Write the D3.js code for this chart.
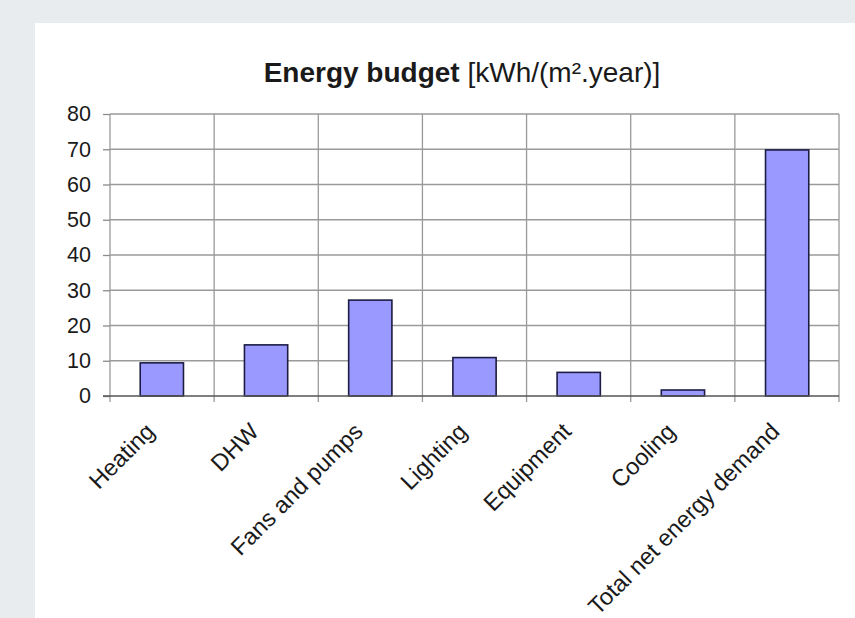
<!DOCTYPE html>
<html>
<head>
<meta charset="utf-8">
<script src="https://cdn.jsdelivr.net/npm/d3@7"></script>
<style>
  html, body { margin: 0; padding: 0; background: #e9ecef; }
  .canvas { width: 855px; height: 618px; overflow: hidden; }
  text { font-family: "Liberation Sans", Arial, sans-serif; fill: #1a1a1a; }
</style>
</head>
<body>
<div class="canvas"></div>
<script>
// data
const categories = ['Heating', 'DHW', 'Fans and pumps', 'Lighting', 'Equipment', 'Cooling', 'Total net energy demand'];
const values = [9.4, 14.5, 27.2, 10.9, 6.7, 1.7, 69.8];
const yTicks = [0, 10, 20, 30, 40, 50, 60, 70, 80];

const margins = { top: 114, right: 16, bottom: 222, left: 110 };
const canvasWidth = 855;
const canvasHeight = 618;
const graphWidth = canvasWidth - margins.right - margins.left;
const graphHeight = canvasHeight - margins.top - margins.bottom;

const svg = d3
  .select('.canvas')
  .append('svg')
  .attr('width', canvasWidth)
  .attr('height', canvasHeight);

// white panel
svg.append('rect')
  .attr('x', 35)
  .attr('y', 23)
  .attr('width', canvasWidth - 35)
  .attr('height', canvasHeight - 23)
  .attr('fill', '#fff');

// title
const title = svg.append('text')
  .attr('x', 462)
  .attr('y', 82)
  .attr('text-anchor', 'middle')
  .style('font-size', '28px');
title.append('tspan').attr('font-weight', 'bold').text('Energy budget');
title.append('tspan').text(' [kWh/(m\u00B2.year)]');

const graph = svg
  .append('g')
  .attr('transform', `translate(${margins.left}, ${margins.top})`);

// scales
const x = d3.scaleBand().domain(categories).range([0, graphWidth]).padding(0);
const xBar = d3.scaleBand().domain(categories).range([0, graphWidth]).paddingInner(0.585).paddingOuter(0.29);
const y = d3.scaleLinear().domain([0, 80]).range([graphHeight, 0]);

// horizontal grid
graph.append('g')
  .selectAll('line')
  .data(yTicks.slice(1))
  .join('line')
  .attr('x1', 0)
  .attr('x2', graphWidth)
  .attr('y1', d => y(d))
  .attr('y2', d => y(d))
  .attr('stroke', '#9a9a9a')
  .attr('stroke-width', 1.3);

// vertical grid + ticks below axis
const edges = categories.map(d => x(d)).concat([graphWidth]);
graph.append('g')
  .selectAll('line')
  .data(edges)
  .join('line')
  .attr('x1', d => d)
  .attr('x2', d => d)
  .attr('y1', 0)
  .attr('y2', graphHeight + 6)
  .attr('stroke', '#9a9a9a')
  .attr('stroke-width', 1.3);

// bars
graph.append('g')
  .selectAll('rect')
  .data(values)
  .join('rect')
  .attr('x', (d, i) => xBar(categories[i]))
  .attr('width', xBar.bandwidth())
  .attr('y', d => y(d))
  .attr('height', d => graphHeight - y(d))
  .attr('fill', '#9999ff')
  .attr('stroke', '#1c1c44')
  .attr('stroke-width', 1.6);

// y axis
const yAxis = d3.axisLeft(y).tickValues(yTicks).tickSize(7).tickPadding(12);
const yAxisGroup = graph.append('g').call(yAxis);
yAxisGroup.select('.domain').remove();
yAxisGroup.selectAll('line').attr('stroke', '#8a8a8a').attr('stroke-width', 1.3);
yAxisGroup.selectAll('text')
  .style('font-size', '21.5px')
  .style('font-family', '"Liberation Sans", Arial, sans-serif')
  .attr('fill', '#1a1a1a');

// x axis line
graph.append('line')
  .attr('x1', -7)
  .attr('x2', graphWidth)
  .attr('y1', y(0))
  .attr('y2', y(0))
  .attr('stroke', '#555')
  .attr('stroke-width', 1.5);

// x labels
graph.append('g')
  .selectAll('text')
  .data(categories)
  .join('text')
  .attr('transform', d => `translate(${x(d) + x.bandwidth() / 2 - 6}, ${graphHeight + 37}) rotate(-45)`)
  .attr('text-anchor', 'end')
  .style('font-size', '23.5px')
  .text(d => d);
</script>
</body>
</html>
